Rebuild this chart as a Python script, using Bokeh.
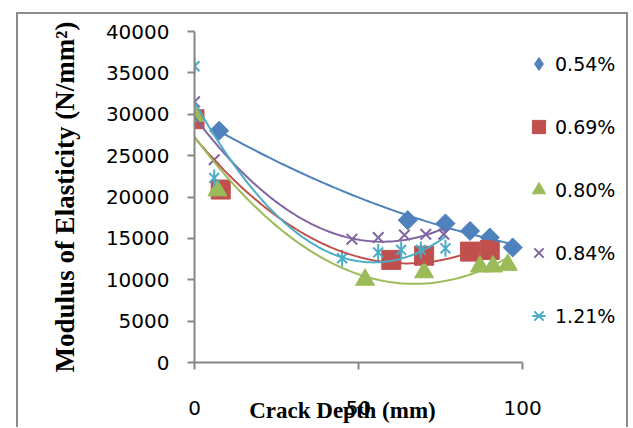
import numpy as np
from bokeh.plotting import figure
from bokeh.models import Legend, LegendItem, FixedTicker, Range1d
from bokeh.embed import file_html
from bokeh.resources import INLINE

# ---- data ----
series_names = ["0.54%", "0.69%", "0.80%", "0.84%", "1.21%"]
depth_054 = [7.5, 65, 76.5, 84, 90, 97]
e_054 = [28000, 17200, 16800, 15900, 15100, 13900]
depth_069 = [0, 8, 60, 70, 84, 90]
e_069 = [29400, 20900, 12400, 12900, 13400, 13600]
depth_080 = [0, 7, 52, 70, 87, 91, 95.5]
e_080 = [29800, 20800, 10000, 10900, 11600, 11600, 11800]
depth_084 = [0, 6, 48, 56, 64, 70.5, 76]
e_084 = [31500, 24500, 14900, 15100, 15400, 15500, 15500]
depth_121 = [0, 6, 45, 56, 63, 69, 76.5]
e_121 = [35800, 22300, 12600, 13300, 13600, 13600, 13800]
x_ticks = [0, 50, 100]
y_ticks = [0, 5000, 10000, 15000, 20000, 25000, 30000, 35000, 40000]

colors = ["#4F81BD", "#C0504D", "#9BBB59", "#8064A2", "#4BACC6"]

# the frame runs on to the right so that the legend sits inside it;
# the x axis itself is bounded to 0..100
p = figure(width=612, height=415, x_range=Range1d(0, 132.3), y_range=Range1d(0, 40000),
           output_backend="svg", toolbar_location=None,
           min_border_left=176, min_border_right=2, min_border_top=17, min_border_bottom=67)
p.margin = (12, 0, 0, 16)
p.styles = {"border-left": "2px solid #8c8c8c",
            "border-top": "2px solid #8c8c8c",
            "border-right": "2px solid #8c8c8c"}
p.outline_line_color = None
p.xgrid.visible = False
p.ygrid.visible = False
p.background_fill_color = "white"
p.border_fill_color = "white"

tick_font = "DejaVu Sans"
for ax in (p.xaxis[0], p.yaxis[0]):
    ax.axis_line_color = "#868686"
    ax.axis_line_width = 2
    ax.major_tick_line_color = "#868686"
    ax.major_tick_line_width = 2
    ax.major_tick_in = 0
    ax.major_tick_out = 7
    ax.minor_tick_line_color = None
    ax.major_label_text_font = tick_font
    ax.major_label_text_font_size = "20px"
    ax.major_label_text_color = "black"
    ax.axis_label_text_font = "Liberation Serif"
    ax.axis_label_text_font_style = "bold"
    ax.axis_label_text_color = "black"

p.xaxis.bounds = (0, 100)
p.xaxis.ticker = FixedTicker(ticks=x_ticks)
p.yaxis.ticker = FixedTicker(ticks=y_ticks)
p.xaxis.major_label_standoff = 31
p.yaxis.major_label_standoff = 18
# trailing em spaces move the centred title left, under the bounded axis
p.xaxis.axis_label = "Crack Depth (mm)" + "\u2003" * 6
p.xaxis.axis_label_text_font_size = "23px"
p.xaxis.axis_label_standoff = -20
p.yaxis.axis_label = "Modulus of Elasticity (N/mm\u00b2)"
p.yaxis.axis_label_text_font_size = "27px"
p.yaxis.axis_label_standoff = 23

# ---- markers ----
# legend key for the first series: a diamond hidden under the rotated squares
r1_key = p.scatter(depth_054, e_054, marker="diamond", size=13.5,
                   fill_color=colors[0], line_color=colors[0])
r1 = p.scatter(depth_054, e_054, marker="square", angle=np.pi / 4, size=13.5,
               fill_color=colors[0], line_color=colors[0])
r2 = p.scatter(depth_069, e_069, marker="square", size=19,
               fill_color=colors[1], line_color=colors[1])
r3 = p.scatter(depth_080, e_080, marker="triangle", size=19,
               fill_color=colors[2], line_color=colors[2])
r4 = p.scatter(depth_084, e_084, marker="x", size=15, line_color=colors[3], line_width=2)
r5a = p.scatter(depth_121, e_121, marker="x", size=14, line_color=colors[4], line_width=2)
r5b = p.scatter(depth_121, e_121, marker="dash", angle=np.pi / 2, size=17,
                line_color=colors[4], line_width=2)

# ---- polynomial (order 2) trendlines, computed from the data ----
for xs, ys, c in [(depth_054, e_054, colors[0]), (depth_069, e_069, colors[1]),
                  (depth_080, e_080, colors[2]), (depth_084, e_084, colors[3]),
                  (depth_121, e_121, colors[4])]:
    coef = np.polyfit(xs, ys, 2)
    xx = np.linspace(min(xs), max(xs), 120)
    p.line(xx, np.polyval(coef, xx), line_color=c, line_width=2)

legend = Legend(items=[
    LegendItem(label=series_names[0], renderers=[r1_key]),
    LegendItem(label=series_names[1], renderers=[r2]),
    LegendItem(label=series_names[2], renderers=[r3]),
    LegendItem(label=series_names[3], renderers=[r4]),
    LegendItem(label=series_names[4], renderers=[r5a, r5b]),
], location=(328, 30))
legend.border_line_color = None
legend.background_fill_alpha = 0
legend.padding = 0
legend.margin = 0
legend.spacing = 30
legend.glyph_width = 33
legend.glyph_height = 33
legend.label_height = 33
legend.label_standoff = -4
legend.label_text_font = tick_font
legend.label_text_font_size = "19px"
legend.label_text_color = "black"
p.add_layout(legend, "center")

open("out.html", "w").write(file_html(p, INLINE))
